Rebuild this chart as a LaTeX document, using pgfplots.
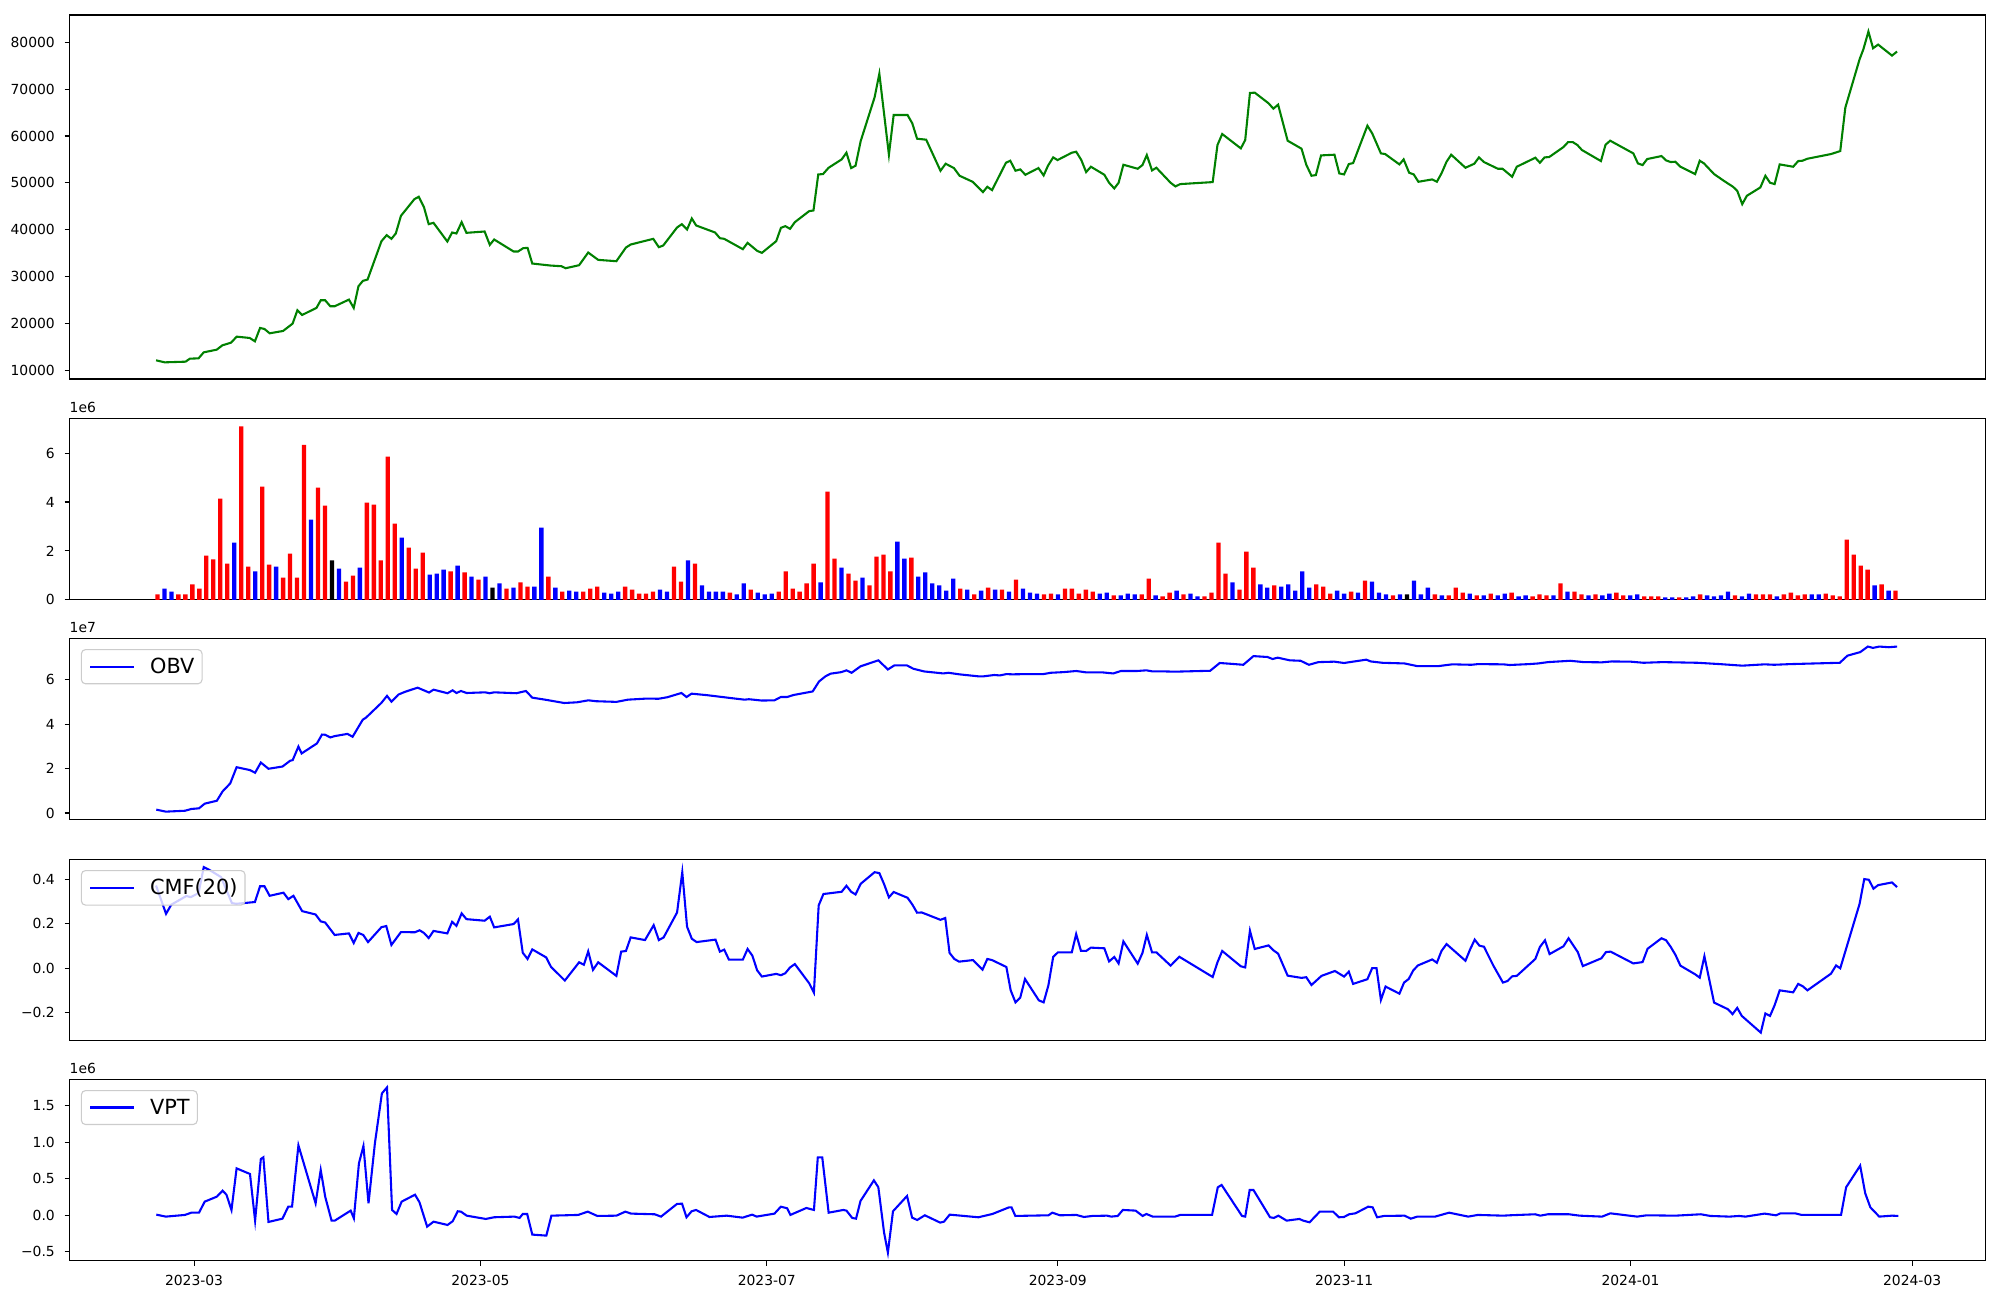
\documentclass[border=0pt]{standalone}
\usepackage{fontspec}
\setmainfont{DejaVu Sans}
\usepackage{pgfplots}
\usepackage{pgfplotstable}
\pgfplotsset{compat=1.18}
\definecolor{mplgreen}{HTML}{008000}

\pgfplotstableread{
d v
-7.65 12140
-5.80 11709
-1.37 11851
-0.44 12492
1.40 12563
2.51 13845
5.28 14414
6.48 15340
8.33 15910
9.53 17191
12.30 16906
13.41 16194
14.51 19042
15.44 18829
16.55 17903
19.41 18402
21.44 19968
22.46 22816
23.47 21819
26.52 23314
27.44 24952
28.37 24952
29.47 23670
30.40 23670
33.44 25094
34.46 23314
35.47 27942
36.40 29082
37.41 29366
40.37 37554
41.48 38836
42.49 38053
43.42 39192
44.52 42966
47.39 46526
48.31 47024
49.42 44817
50.43 41186
51.45 41470
54.40 37483
55.42 39406
56.34 39192
57.45 41613
58.47 39334
62.34 39619
63.45 36771
64.38 37910
68.53 35347
69.45 35347
70.56 36059
71.49 36130
72.50 32784
76.38 32357
78.69 32214
79.61 31787
82.47 32428
84.41 35134
86.54 33567
90.41 33282
92.45 36202
93.46 36842
98.26 38053
99.46 36273
100.39 36629
103.34 40474
104.36 41186
105.47 40047
106.48 42396
107.41 40901
111.44 39406
112.46 38195
113.38 38053
117.35 35846
118.36 37198
120.40 35490
121.41 35062
124.46 37554
125.47 40402
126.40 40758
127.41 40189
128.43 41613
131.48 43962
132.40 44105
133.42 51794
134.43 51866
135.63 53218
138.40 54998
139.42 56422
140.43 53147
141.36 53646
142.46 58914
145.42 68242
146.43 73297
148.47 55995
149.48 64468
152.44 64468
153.45 62688
154.47 59413
156.41 59199
159.45 52578
160.56 54073
162.32 53147
163.52 51510
166.29 50228
168.50 48021
169.43 49160
170.44 48448
173.40 54286
174.32 54714
175.43 52578
176.44 52862
177.55 51723
180.32 53147
181.43 51581
182.35 53646
183.46 55426
184.39 54856
187.43 56422
188.36 56636
189.46 54856
190.48 52293
191.50 53432
194.36 51723
195.37 50014
196.48 48804
197.40 50014
198.42 53859
201.47 53005
202.48 53788
203.41 55924
204.52 52649
205.44 53218
208.48 50014
209.50 49231
210.52 49730
217.44 50157
218.46 58060
219.47 60410
223.44 57348
224.37 59128
225.38 69167
226.40 69238
229.35 66960
230.37 65821
231.38 66675
233.41 58986
236.37 57277
237.38 53859
238.49 51510
239.42 51652
240.53 55853
243.39 55995
244.41 52008
245.42 51794
246.44 54002
247.36 54215
250.40 62190
251.42 60552
253.28 56280
254.18 56138
257.22 53930
258.12 55000
259.29 52150
260.27 51794
261.26 50228
264.21 50726
265.20 50228
266.18 52008
267.26 54500
268.25 56000
271.29 53218
273.17 54073
274.16 55426
275.23 54430
278.19 53005
279.18 53005
281.24 51296
282.22 53432
286.17 55354
287.15 54286
288.14 55426
289.12 55497
292.17 57633
293.16 58700
294.14 58700
295.13 58060
296.11 56992
300.15 54642
301.13 58130
302.12 58986
307.05 56280
308.03 54144
309.02 53788
310.00 55070
313.05 55710
314.03 54785
315.02 54430
316.01 54500
317.08 53432
320.22 51866
321.20 54714
322.10 54144
324.25 51866
326.31 50442
328.28 49160
329.18 48306
330.25 45458
331.24 47238
334.11 49018
335.18 51510
336.17 50014
337.15 49730
338.23 53930
341.10 53432
342.17 54642
343.07 54714
344.14 55141
349.16 56138
351.13 56778
352.21 66034
355.25 76358
356.06 78494
357.13 82268
358.12 78708
359.20 79491
362.15 77142
363.23 78000
}\pricetab

\pgfplotstableread{
i v
0 0.22
3 0.22
4 0.22
5 0.63
6 0.46
7 1.81
8 1.65
9 4.14
10 1.48
12 7.09
13 1.36
15 4.63
16 1.44
18 0.91
19 1.89
20 0.91
21 6.34
23 4.59
24 3.85
27 0.75
28 0.99
30 3.97
31 3.89
32 1.61
33 5.85
34 3.12
36 2.14
37 1.28
38 1.93
42 1.16
44 1.12
46 0.83
50 0.46
52 0.71
53 0.54
56 0.95
58 0.34
61 0.34
62 0.46
63 0.54
67 0.54
68 0.42
69 0.26
70 0.26
71 0.34
74 1.36
75 0.75
77 1.48
82 0.30
85 0.42
89 0.34
90 1.16
91 0.46
92 0.34
93 0.67
94 1.48
96 4.42
97 1.69
99 1.07
100 0.79
102 0.59
103 1.77
104 1.85
105 1.16
108 1.73
115 0.46
117 0.22
119 0.50
121 0.42
123 0.83
127 0.22
128 0.26
130 0.46
131 0.46
132 0.26
133 0.42
134 0.34
137 0.18
141 0.22
142 0.87
144 0.14
145 0.30
147 0.22
150 0.14
151 0.30
152 2.34
153 1.07
155 0.42
156 1.97
157 1.32
160 0.59
166 0.63
167 0.54
168 0.26
171 0.34
173 0.79
177 0.18
183 0.22
185 0.18
186 0.50
187 0.30
189 0.18
191 0.26
194 0.30
197 0.14
198 0.22
199 0.18
201 0.67
203 0.34
204 0.22
206 0.22
209 0.30
210 0.18
213 0.14
214 0.14
215 0.14
218 0.10
221 0.22
226 0.18
229 0.22
230 0.22
231 0.22
233 0.22
234 0.30
235 0.18
236 0.22
239 0.26
240 0.18
241 0.14
242 2.46
243 1.85
244 1.40
245 1.24
247 0.63
249 0.38
}\redtab

\pgfplotstableread{
i v
1 0.46
2 0.34
11 2.34
14 1.16
17 1.36
22 3.28
26 1.28
29 1.32
35 2.54
39 1.03
40 1.07
41 1.24
43 1.40
45 0.95
47 0.95
49 0.67
51 0.50
54 0.54
55 2.95
57 0.50
59 0.38
60 0.34
64 0.30
65 0.26
66 0.34
72 0.42
73 0.34
76 1.61
78 0.59
79 0.34
80 0.34
81 0.34
83 0.22
84 0.67
86 0.30
87 0.22
88 0.26
95 0.71
98 1.32
101 0.91
106 2.38
107 1.69
109 0.95
110 1.12
111 0.67
112 0.59
113 0.38
114 0.87
116 0.42
118 0.38
120 0.42
122 0.34
124 0.46
125 0.30
126 0.26
129 0.22
135 0.26
136 0.30
138 0.18
139 0.26
140 0.22
143 0.18
146 0.38
148 0.26
149 0.14
154 0.71
158 0.63
159 0.50
161 0.54
162 0.63
163 0.38
164 1.16
165 0.50
169 0.38
170 0.26
172 0.30
174 0.75
175 0.30
176 0.22
178 0.22
180 0.79
181 0.22
182 0.50
184 0.18
188 0.26
190 0.18
192 0.18
193 0.26
195 0.14
196 0.18
200 0.18
202 0.34
205 0.18
207 0.18
208 0.26
211 0.18
212 0.22
216 0.10
217 0.10
219 0.10
220 0.14
222 0.18
223 0.14
224 0.18
225 0.34
227 0.14
228 0.26
232 0.14
237 0.22
238 0.22
246 0.59
248 0.38
}\bluetab

\pgfplotstableread{
i v
25 1.61
48 0.50
179 0.22
}\blacktab

\pgfplotstableread{
d v
-7.60 0.15
-5.56 0.06
-1.49 0.10
-0.13 0.18
1.50 0.21
2.72 0.42
5.30 0.55
6.52 0.97
8.15 1.33
9.51 2.06
12.36 1.93
13.45 1.81
14.67 2.27
16.30 1.99
19.28 2.09
20.91 2.35
21.46 2.38
22.68 2.99
23.36 2.68
26.62 3.13
27.70 3.53
28.38 3.52
29.47 3.40
30.42 3.46
33.13 3.56
34.22 3.43
36.39 4.20
37.07 4.29
40.33 4.95
41.55 5.27
42.50 5.01
43.99 5.33
45.35 5.45
48.06 5.64
48.74 5.58
50.51 5.42
51.46 5.55
54.44 5.39
55.53 5.52
56.35 5.40
57.30 5.49
58.52 5.40
62.46 5.43
63.41 5.39
64.36 5.43
69.11 5.39
71.14 5.49
72.50 5.19
75.22 5.10
79.29 4.95
82.00 4.98
84.45 5.07
86.08 5.03
90.42 5.00
92.87 5.10
96.94 5.15
99.38 5.14
101.28 5.21
104.27 5.40
105.35 5.22
106.44 5.37
109.83 5.30
115.26 5.16
117.71 5.10
118.66 5.12
121.37 5.06
124.09 5.07
125.45 5.22
126.80 5.22
128.16 5.31
132.23 5.47
133.59 5.92
134.95 6.15
136.04 6.27
138.35 6.34
139.43 6.42
140.52 6.31
142.42 6.60
146.22 6.87
148.25 6.46
149.61 6.64
152.33 6.64
153.69 6.49
155.99 6.37
160.07 6.28
161.15 6.31
163.46 6.24
167.53 6.15
168.62 6.15
170.93 6.21
172.10 6.19
173.46 6.25
174.82 6.24
177.53 6.25
181.33 6.25
182.96 6.31
185.68 6.34
188.39 6.39
190.43 6.33
193.82 6.33
196.26 6.28
197.89 6.39
201.29 6.39
203.32 6.42
204.68 6.37
207.40 6.37
209.43 6.36
216.90 6.40
218.94 6.75
220.97 6.72
223.96 6.67
226.13 7.06
229.12 7.02
230.20 6.93
231.29 6.99
233.87 6.87
236.18 6.85
237.94 6.67
239.98 6.79
243.37 6.81
245.41 6.75
250.16 6.90
251.11 6.82
253.56 6.76
258.31 6.73
261.02 6.61
265.50 6.61
268.49 6.69
272.56 6.67
273.92 6.70
279.35 6.69
280.71 6.66
284.78 6.70
286.82 6.73
288.85 6.79
293.60 6.85
296.50 6.79
300.39 6.78
302.43 6.82
306.50 6.81
309.22 6.76
313.29 6.79
320.76 6.76
325.51 6.70
330.26 6.63
335.01 6.69
337.05 6.67
340.44 6.70
351.03 6.76
352.66 7.08
355.38 7.24
357.01 7.49
358.10 7.43
359.45 7.49
361.49 7.46
363.25 7.49
}\obvtab

\pgfplotstableread{
d v
-7.65 0.372
-5.52 0.245
-4.41 0.286
-1.18 0.325
-0.26 0.320
1.40 0.338
2.51 0.455
3.90 0.440
6.20 0.410
8.51 0.293
9.44 0.290
13.41 0.298
14.51 0.369
15.44 0.369
16.55 0.326
19.50 0.340
20.52 0.311
21.62 0.326
23.47 0.257
26.33 0.242
27.44 0.211
28.37 0.206
30.40 0.150
33.44 0.157
34.46 0.114
35.47 0.159
36.49 0.150
37.51 0.118
40.37 0.185
41.39 0.190
42.49 0.105
44.52 0.163
47.48 0.162
48.49 0.171
49.42 0.159
50.43 0.136
51.45 0.168
54.40 0.157
55.42 0.209
56.34 0.191
57.45 0.247
58.47 0.221
62.34 0.214
63.45 0.232
64.38 0.184
68.53 0.199
69.45 0.220
70.47 0.070
71.49 0.042
72.50 0.085
75.46 0.049
76.47 0.007
79.43 -0.055
82.47 0.027
83.49 0.016
84.41 0.076
85.43 -0.007
86.54 0.027
90.41 -0.034
91.43 0.075
92.45 0.078
93.46 0.139
96.51 0.127
98.36 0.194
99.46 0.127
100.48 0.139
103.34 0.251
104.45 0.432
105.47 0.187
106.48 0.133
107.50 0.118
111.53 0.129
112.46 0.075
113.38 0.084
114.39 0.039
117.35 0.039
118.36 0.087
119.38 0.057
120.40 -0.009
121.41 -0.037
124.46 -0.025
125.47 -0.031
126.40 -0.022
127.41 0.004
128.43 0.019
131.48 -0.067
132.49 -0.109
133.51 0.283
134.52 0.334
138.40 0.344
139.42 0.371
140.43 0.344
141.36 0.332
142.46 0.380
145.42 0.432
146.43 0.428
147.45 0.378
148.47 0.319
149.48 0.343
152.44 0.317
153.45 0.287
154.47 0.250
155.48 0.251
159.45 0.218
160.47 0.226
161.39 0.069
162.41 0.042
163.42 0.030
166.38 0.037
168.41 -0.006
169.43 0.042
170.44 0.037
173.49 0.006
174.41 -0.099
175.43 -0.153
176.44 -0.132
177.46 -0.048
180.41 -0.144
181.43 -0.153
182.45 -0.076
183.46 0.051
184.48 0.072
187.43 0.072
188.36 0.154
189.37 0.079
190.48 0.078
191.50 0.093
194.36 0.090
195.37 0.031
196.48 0.051
197.40 0.022
198.42 0.121
201.47 0.021
202.48 0.069
203.41 0.150
204.52 0.072
205.44 0.072
208.48 0.012
210.33 0.052
217.44 -0.039
218.46 0.027
219.47 0.078
223.44 0.009
224.37 0.004
225.38 0.169
226.40 0.087
229.35 0.103
230.37 0.081
231.38 0.066
233.41 -0.033
236.37 -0.043
237.38 -0.040
238.49 -0.075
240.62 -0.034
243.48 -0.012
245.42 -0.037
246.44 -0.015
247.36 -0.070
250.40 -0.049
251.42 0.001
252.34 0.001
253.28 -0.142
254.27 -0.082
257.22 -0.114
258.21 -0.064
259.20 -0.048
260.18 -0.009
261.17 0.013
264.21 0.040
265.20 0.025
266.18 0.078
267.26 0.109
271.29 0.034
272.28 0.085
273.26 0.129
274.25 0.102
275.23 0.097
277.21 0.013
279.27 -0.064
280.25 -0.057
281.24 -0.036
282.22 -0.034
286.17 0.042
287.15 0.096
288.23 0.126
289.21 0.064
292.17 0.099
293.25 0.135
295.22 0.073
296.29 0.010
300.24 0.045
301.22 0.073
302.21 0.075
307.05 0.022
309.02 0.028
310.09 0.088
313.05 0.135
314.03 0.126
315.02 0.096
316.01 0.061
317.08 0.012
320.22 -0.027
321.20 -0.042
322.19 0.054
324.25 -0.154
327.21 -0.184
328.19 -0.206
329.18 -0.178
330.16 -0.214
334.20 -0.289
335.18 -0.203
336.17 -0.214
337.15 -0.166
338.23 -0.099
341.10 -0.108
342.17 -0.070
343.16 -0.081
344.14 -0.099
349.16 -0.024
350.24 0.013
351.13 0.000
355.25 0.290
356.24 0.401
357.22 0.398
358.21 0.358
359.20 0.374
362.15 0.386
363.23 0.365
}\cmftab

\pgfplotstableread{
d v
-7.60 0.009
-5.56 -0.018
-1.49 0.005
-0.13 0.036
1.50 0.036
2.72 0.187
5.30 0.255
6.52 0.337
7.34 0.282
8.42 0.073
9.51 0.642
12.36 0.565
13.45 -0.073
14.67 0.770
15.21 0.793
16.30 -0.091
19.28 -0.046
20.51 0.118
21.32 0.118
22.68 0.957
26.34 0.164
27.43 0.620
28.38 0.255
29.74 -0.073
30.42 -0.073
33.81 0.064
34.49 -0.041
35.57 0.711
36.53 0.948
37.61 0.164
38.97 0.984
40.46 1.667
41.55 1.749
42.63 0.073
43.58 0.018
44.67 0.187
47.52 0.282
48.47 0.178
50.10 -0.155
51.46 -0.087
54.44 -0.132
55.53 -0.082
56.62 0.055
57.30 0.050
58.52 -0.005
62.59 -0.050
64.36 -0.027
68.70 -0.018
69.79 -0.036
70.47 0.018
71.41 0.018
72.50 -0.264
75.49 -0.278
76.57 -0.005
82.28 0.005
84.31 0.050
86.35 -0.009
90.42 -0.005
92.32 0.050
93.54 0.023
98.57 0.014
99.92 -0.018
103.32 0.155
104.40 0.159
105.35 -0.027
106.44 0.055
107.39 0.073
110.24 -0.023
113.91 -0.005
117.30 -0.032
119.34 0.009
120.29 -0.018
124.09 0.023
125.45 0.118
126.80 0.096
127.48 0.005
130.88 0.100
132.50 0.073
133.32 0.793
134.27 0.793
135.63 0.036
138.75 0.073
139.43 0.064
140.65 -0.036
141.47 -0.046
142.42 0.196
145.27 0.478
146.22 0.383
147.44 -0.237
148.25 -0.510
149.34 0.055
152.33 0.264
153.41 -0.032
154.50 -0.064
156.12 0.000
159.38 -0.100
160.20 -0.087
161.42 0.009
167.53 -0.027
170.52 0.018
174.05 0.109
174.59 0.109
175.40 -0.009
182.46 0.000
183.28 0.036
184.91 0.000
188.39 0.005
190.02 -0.023
191.79 -0.009
194.91 -0.005
195.86 -0.018
197.22 -0.009
198.30 0.073
201.02 0.064
202.51 -0.009
203.32 0.018
204.68 -0.018
209.43 -0.018
210.52 0.005
217.31 0.005
218.53 0.383
219.34 0.415
223.69 -0.009
224.37 -0.018
225.32 0.346
226.13 0.346
229.66 -0.027
230.48 -0.036
231.43 -0.005
233.19 -0.073
235.91 -0.050
236.72 -0.073
238.08 -0.096
240.25 0.050
243.10 0.050
244.32 -0.027
245.41 -0.023
246.50 0.014
247.85 0.027
250.57 0.118
251.52 0.109
252.47 -0.027
253.96 -0.009
258.31 -0.005
259.66 -0.046
261.02 -0.018
264.82 -0.018
267.81 0.036
271.88 -0.018
273.92 0.005
279.35 -0.005
280.71 0.000
286.14 0.014
287.22 -0.005
288.85 0.014
293.33 0.014
295.64 -0.005
300.39 -0.018
302.16 0.027
307.86 -0.018
309.90 0.000
316.00 -0.005
321.43 0.014
323.47 -0.009
327.54 -0.018
329.58 -0.009
330.94 -0.018
335.01 0.023
337.45 0.000
338.40 0.027
341.52 0.027
342.88 0.005
351.30 0.005
352.38 0.383
355.37 0.679
356.45 0.301
357.54 0.109
359.44 -0.018
362.16 -0.005
363.52 -0.009
}\vpttab

\tikzset{offtext/.style={anchor=south west, inner sep=0pt, font=\fontsize{10}{12}\selectfont, yshift=4pt}}

\pgfplotsset{
  panel/.style={
    scale only axis,
    width=1379.3pt,
    anchor=north west,
    xmin=-26.55, xmax=381.55,
    scaled x ticks=false, scaled y ticks=false,
    axis line style={line width=0.8pt, black},
    every tick/.style={line width=0.8pt, black},
    major tick length=3.5pt,
    tick align=outside,
    ytick pos=left,
    xtick=\empty,
    tick label style={font=\fontsize{10}{12}\selectfont},
    yticklabel style={xshift=-3.5pt},
    xticklabel style={yshift=-3.5pt},
    clip mode=individual,
    legend cell align=left,
    legend image code/.code={\draw[##1, line width=1.5pt] (0pt,0pt) -- (31.5pt,0pt);},
    legend style={at={(0,1)}, anchor=north west, xshift=8.2pt, yshift=-7.7pt,
      draw=white!80!black, line width=0.8pt, rounded corners=3pt,
      fill=white, fill opacity=0.8, text opacity=1,
      font=\fontsize{15}{18}\selectfont, inner xsep=5.5pt, inner ysep=6pt,
      nodes={inner sep=0pt},
      /tikz/every odd column/.append style={column sep=11pt}},
  },
}

\begin{document}
\begin{tikzpicture}
\useasboundingbox (0pt,0pt) rectangle (1440pt,-936pt);

% Panel 1: price
\begin{axis}[panel, at={(50pt,-10.8pt)}, height=262.1pt,
  ymin=8150, ymax=85800,
  ytick={10000,20000,30000,40000,50000,60000,70000,80000},
  yticklabels={10000,20000,30000,40000,50000,60000,70000,80000}]
\addplot[mplgreen, line width=1.5pt] table[x expr=\thisrow{d}-0.45, y=v] {\pricetab};
\end{axis}

% Panel 2: volume bars
\begin{axis}[panel, at={(50pt,-301.2pt)}, height=130.7pt,
  ymin=0, ymax=7.42,
  ytick={0,2,4,6}, yticklabels={0,2,4,6}]
\addplot[ybar, bar width=0.92, bar shift=0pt, fill=red, draw=none] table[x expr=-7.8+1.487*\thisrow{i}, y=v] {\redtab};
\addplot[ybar, bar width=0.92, bar shift=0pt, fill=blue, draw=none] table[x expr=-7.8+1.487*\thisrow{i}, y=v] {\bluetab};
\addplot[ybar, bar width=0.92, bar shift=0pt, fill=black, draw=none] table[x expr=-7.8+1.487*\thisrow{i}, y=v] {\blacktab};
\node[offtext] at (rel axis cs:0,1) {1e6};
\end{axis}

% Panel 3: OBV
\begin{axis}[panel, at={(50pt,-459.6pt)}, height=130.7pt,
  ymin=-0.31, ymax=7.86,
  ytick={0,2,4,6}, yticklabels={0,2,4,6}]
\addplot[blue, line width=1.5pt] table[x expr=\thisrow{d}-0.45, y=v] {\obvtab};
\addlegendentry{OBV}
\node[offtext] at (rel axis cs:0,1) {1e7};
\end{axis}

% Panel 4: CMF
\begin{axis}[panel, at={(50pt,-618.7pt)}, height=130.7pt,
  ymin=-0.326, ymax=0.490,
  ytick={-0.2,0,0.2,0.4}, yticklabels={−0.2,0.0,0.2,0.4}]
\addplot[blue, line width=1.5pt] table[x expr=\thisrow{d}-0.45, y=v] {\cmftab};
\addlegendentry{CMF(20)}
\end{axis}

% Panel 5: VPT
\begin{axis}[panel, at={(50pt,-777.1pt)}, height=130.7pt,
  ymin=-0.623, ymax=1.860,
  ytick={-0.5,0,0.5,1,1.5}, yticklabels={−0.5,0.0,0.5,1.0,1.5},
  xtick={0,61,122,184,245,306,366}, xtick pos=lower,
  xticklabels={2023-03,2023-05,2023-07,2023-09,2023-11,2024-01,2024-03}]
\addplot[blue, line width=1.5pt] table[x expr=\thisrow{d}-0.45, y=v] {\vpttab};
\addlegendentry{VPT}
\node[offtext] at (rel axis cs:0,1) {1e6};
\end{axis}
\end{tikzpicture}
\end{document}
